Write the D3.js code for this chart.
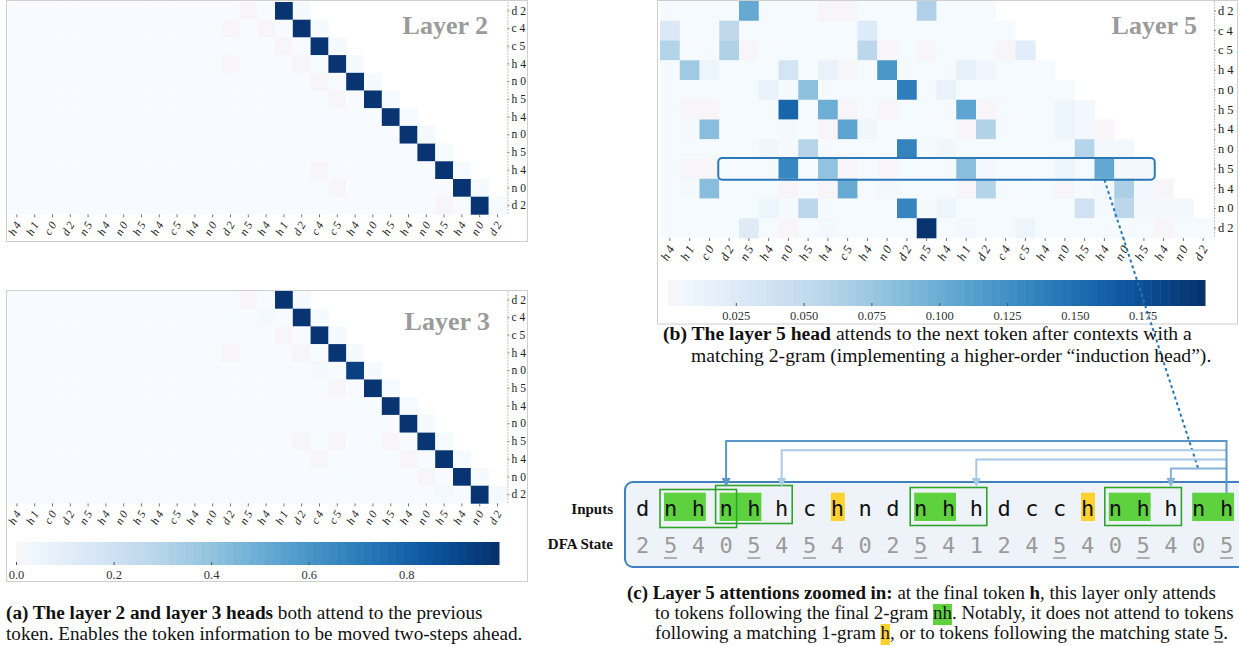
<!DOCTYPE html>
<html>
<head>
<meta charset="utf-8">
<script src="https://cdn.jsdelivr.net/npm/d3@7"></script>
<style>
  body { margin: 0; background: #fff; }
  svg { display: block; }
  text { font-family: "Liberation Serif", "Times New Roman", serif; }
</style>
</head>
<body>
<svg id="fig" width="1239" height="646"></svg>
<script>
// heatmap columns = last 28 tokens (symbol + DFA state), rows = last 12 of them
const colLabels = ["h4","h1","c0","d2","n5","h4","n0","h5","h4","c5","h4","n0","d2","n5",
                   "h4","h1","d2","c4","c5","h4","n0","h5","h4","n0","h5","h4","n0","d2"];
const rowLabels = ["d2","c4","c5","h4","n0","h5","h4","n0","h5","h4","n0","d2"];

// attention weights in per mille, row r covers columns 0 .. 16+r (causal mask)
const layer2 = [
  [2,2,2,2,2, 2,2,2,2,2, 2,2,2,0,2, 975,10],
  [2,2,2,2,2, 2,2,2,2,2, 2,2,0,2,0, 2,975,10],
  [2,2,2,2,2, 2,2,2,2,2, 2,2,2,2,2, 0,2,975,10],
  [2,2,2,2,2, 2,2,2,2,2, 2,2,0,2,2, 2,0,2,975,10],
  [2,2,2,2,2, 2,2,2,2,2, 2,2,2,2,2, 2,2,0,2,975,10],
  [2,2,2,2,2, 2,2,2,2,2, 2,2,2,2,2, 2,2,2,0,2,975,10],
  [2,2,2,2,2, 2,2,2,2,2, 2,2,2,2,2, 2,2,2,2,2, 2,975,10],
  [2,2,2,2,2, 2,2,2,2,2, 2,2,2,2,2, 2,2,2,2,2, 2,2,975,10],
  [2,2,2,2,2, 2,2,2,2,2, 2,2,2,2,2, 2,2,2,2,2, 2,2,2,975,10],
  [2,2,2,2,2, 2,2,2,2,2, 2,2,2,2,2, 2,2,0,2,2, 2,2,2,2,975,10],
  [2,2,2,2,2, 2,2,2,2,2, 2,2,2,2,2, 2,2,2,0,2, 2,2,2,2,2, 975,10],
  [2,2,2,2,2, 2,2,2,2,2, 2,2,2,2,2, 2,2,2,2,2, 2,2,2,2,0, 2,975,10]
];
const layer3 = [
  [2,2,2,2,2, 2,2,2,2,2, 2,2,2,0,2, 975,10],
  [2,2,2,2,2, 2,2,2,2,2, 2,2,3,2,15, 2,975,10],
  [2,2,2,2,2, 2,2,2,2,2, 2,2,2,2,2, 0,2,975,10],
  [2,2,2,2,2, 2,2,2,2,2, 2,2,0,2,2, 2,0,2,970,10],
  [2,2,2,2,2, 2,2,2,2,2, 2,2,2,2,2, 2,2,15,2,930,10],
  [2,2,2,2,2, 2,2,2,2,2, 2,2,2,2,2, 2,2,2,0,2,975,10],
  [2,2,2,2,2, 2,2,2,2,2, 2,2,2,2,2, 2,2,2,2,3, 2,975,10],
  [2,2,2,2,2, 2,2,2,2,2, 2,2,2,2,2, 2,2,2,2,2, 2,2,975,10],
  [2,2,2,2,2, 2,2,2,2,2, 2,2,2,2,2, 2,0,2,0,2, 2,0,2,970,10],
  [2,2,2,2,2, 2,2,2,2,2, 2,2,2,2,2, 2,2,0,2,2, 2,2,0,2,975,10],
  [2,2,2,2,2, 2,2,2,2,2, 2,2,2,2,2, 2,2,2,3,2, 2,2,2,0,2, 975,10],
  [2,2,2,2,2, 2,2,2,2,2, 2,2,2,2,2, 2,2,2,2,2, 2,2,2,2,15, 2,975,10]
];
const layer5 = [
  [2,2,2,2,103, 2,2,2,0,0, 2,2,2,63,2, 2,2],
  [28,2,2,53,2, 2,2,2,2,2, 26,2,2,2,2, 2,2,2],
  [60,2,2,64,0, 2,2,2,2,2, 55,0,2,0,2, 2,2,0,22],
  [2,72,10,2,2, 2,36,2,14,0, 2,119,2,2,2, 16,8,2,2,2],
  [2,2,2,2,2, 14,2,83,2,2, 2,2,139,2,14, 2,2,2,2,2, 2],
  [2,0,0,2,2, 2,158,2,99,0, 2,0,2,2,2, 107,0,2,2,2, 10,5],
  [2,3,85,2,2, 2,3,2,0,108, 8,2,2,2,2, 0,62,2,2,2, 10,5,0],
  [2,2,2,2,2, 8,2,58,2,2, 2,2,135,2,8, 2,2,2,2,2, 2,58,5,5],
  [2,0,0,2,2, 2,132,2,80,0, 2,0,2,2,2, 84,4,2,2,2, 10,2,104,5,5],
  [2,3,85,2,2, 2,0,2,0,102, 2,4,2,2,2, 0,60,2,2,2, 0,2,5,66,5, 0],
  [2,2,2,2,2, 10,2,55,2,2, 2,2,133,2,10, 2,2,2,2,2, 2,40,2,55,5, 5,5],
  [2,2,2,2,25, 2,0,2,4,2, 2,2,2,196,2, 4,2,2,10,2, 2,2,2,2,2, 0,2,2]
];

const cbarEarlyMax = 0.99;
const cbarEarlyTicks = [0, 0.2, 0.4, 0.6, 0.8];
const cbarL5Max = 0.198;
const cbarL5Ticks = [0.025, 0.05, 0.075, 0.1, 0.125, 0.15, 0.175];

// panel (c): the sequence is heatmap columns 3..24, query is row 8
const inputs = ["d","n","h","n","h","h","c","h","n","d","n","h","h","d","c","c","h","n","h","h","n","h"];
const states = [2,5,4,0,5,4,5,4,0,2,5,4,1,2,4,5,4,0,5,4,0,5];
const seqStart = 3;
const queryRow = 8;
const greenPairs = [[1,2],[3,4],[10,11],[17,18],[20,21]];
const yellowTokens = [7,16];
const matchBoxes = [[1,3],[3,5],[10,12],[17,19]];
const arrowTargets = [3,5,12,19];

const svg = d3.select("#fig");
const zeroTint = "#f8f5f9";

function drawHeatmap(rows, vmax, box, fs) {
    const g = svg.append("g");
    const x = d3.scaleBand().domain(d3.range(colLabels.length)).range([box.x, box.x + box.w]);
    const y = d3.scaleBand().domain(d3.range(rowLabels.length)).range([box.y, box.y + box.h]);
    const color = d3.scaleSequential(d3.interpolateBlues).domain([0, vmax]);
    const cells = rows.flatMap((row, r) => row.map((v, c) => ({r, c, v: v / 1000})));

    g.selectAll("rect")
        .data(cells)
        .join("rect")
        .attr("x", d => x(d.c))
        .attr("y", d => y(d.r))
        .attr("width", x.bandwidth() + 0.3)
        .attr("height", y.bandwidth() + 0.3)
        .attr("fill", d => d.v === 0 ? zeroTint : color(d.v));

    // bottom axis, rotated labels
    const gx = g.append("g")
        .attr("transform", `translate(0,${box.y + box.h})`)
        .call(d3.axisBottom(x).tickSize(3).tickSizeOuter(0).tickFormat(i => colLabels[i]));
    gx.select(".domain").remove();
    gx.selectAll(".tick line").attr("stroke", "#777");
    gx.selectAll(".tick text")
        .attr("x", 0).attr("y", 0).attr("dy", 0)
        .attr("transform", `translate(${fs * 0.5},${fs * 0.6 + 1}) rotate(-60)`)
        .attr("text-anchor", "end")
        .attr("font-size", fs)
        .attr("font-style", "italic")
        .attr("letter-spacing", 2.5)
        .attr("fill", "#222");

    // right axis, dotted spine
    const gy = g.append("g")
        .attr("transform", `translate(${box.x + box.w + 1},0)`)
        .call(d3.axisRight(y).tickSize(2).tickSizeOuter(0).tickFormat(i => rowLabels[i]));
    gy.select(".domain").attr("stroke", "#888").attr("stroke-dasharray", "1,2");
    gy.selectAll(".tick line").attr("stroke", "#888");
    gy.selectAll(".tick text")
        .attr("x", 4)
        .attr("font-size", fs)
        .attr("letter-spacing", 3)
        .attr("fill", "#222");
    return {x, y};
}

function drawColorbar(vmax, ticks, fmt, box) {
    const g = svg.append("g");
    const x = d3.scaleLinear().domain([0, vmax]).range([box.x, box.x + box.w]);
    const color = d3.scaleSequential(d3.interpolateBlues).domain([0, vmax]);
    const n = 60;
    g.selectAll("rect")
        .data(d3.range(n))
        .join("rect")
        .attr("x", i => x(i * vmax / n))
        .attr("y", box.y)
        .attr("width", box.w / n + 0.5)
        .attr("height", box.h)
        .attr("fill", i => i === 0 ? zeroTint : color((i + 0.5) * vmax / n));
    const ga = g.append("g")
        .attr("transform", `translate(0,${box.y + box.h})`)
        .call(d3.axisBottom(x).tickValues(ticks).tickFormat(fmt).tickSize(-3).tickSizeOuter(0).tickPadding(5));
    ga.select(".domain").remove();
    ga.selectAll(".tick line").attr("stroke", "#555");
    ga.selectAll(".tick text").attr("font-size", 12.5).attr("fill", "#333");
}

function frame(x, y, w, h) {
    svg.append("rect")
        .attr("x", x).attr("y", y).attr("width", w).attr("height", h)
        .attr("fill", "none").attr("stroke", "#cfcfcf");
}

function title(txt, x, y) {
    svg.append("text")
        .attr("x", x).attr("y", y)
        .attr("text-anchor", "end")
        .attr("font-size", 26).attr("font-weight", "bold")
        .attr("fill", "#9a9a9a")
        .text(txt);
}

// rich caption line: segments placed one after another
function richLine(x, y, segs, fs = 19.2) {
    const g = svg.append("g");
    let cx = x;
    segs.forEach(s => {
        const seg = typeof s === "string" ? {t: s} : s;
        const t = g.append("text")
            .attr("x", cx).attr("y", y)
            .style("white-space", "pre")
            .attr("font-size", fs)
            .attr("font-weight", seg.b ? "bold" : null)
            .attr("fill", "#111")
            .text(seg.t);
        const w = t.node().getComputedTextLength();
        if (seg.bg) {
            g.insert("rect", "text")
                .attr("x", cx).attr("y", y - 15).attr("width", w).attr("height", 21)
                .attr("fill", seg.bg);
        }
        if (seg.u) {
            g.append("line")
                .attr("x1", cx).attr("x2", cx + w).attr("y1", y + 3).attr("y2", y + 3)
                .attr("stroke", "#111");
        }
        cx += w;
    });
}

// ---- panel (a): layers 2 and 3
frame(6.5, 0.5, 521, 241);
drawHeatmap(layer2, cbarEarlyMax, {x: 8, y: 2, w: 498.4, h: 212.4}, 11.5);
title("Layer 2", 488, 34);

frame(6.5, 290.5, 521, 291);
drawHeatmap(layer3, cbarEarlyMax, {x: 8, y: 291, w: 498.4, h: 212.4}, 11.5);
title("Layer 3", 490, 330);
drawColorbar(cbarEarlyMax, cbarEarlyTicks, d3.format(".1f"), {x: 16, y: 542, w: 483, h: 23});

// ---- panel (b): layer 5
frame(657.5, 0.5, 580, 323.5);
const h5 = drawHeatmap(layer5, cbarL5Max, {x: 660, y: 1, w: 553, h: 237}, 12.5);
title("Layer 5", 1197, 34);
drawColorbar(cbarL5Max, cbarL5Ticks, d3.format(".3f"), {x: 668, y: 280, w: 537, h: 26});

// highlighted query row (the tokens shown in panel c)
svg.append("rect")
    .attr("x", h5.x(seqStart) - 1)
    .attr("y", h5.y(queryRow) - 1)
    .attr("width", h5.x(seqStart + inputs.length - 1) + h5.x.bandwidth() - h5.x(seqStart) + 2)
    .attr("height", h5.y.bandwidth() + 2)
    .attr("rx", 4)
    .attr("fill", "none")
    .attr("stroke", "#2a78b8")
    .attr("stroke-width", 2);

// ---- panel (c): zoomed token view
const tx = d3.scalePoint().domain(d3.range(inputs.length)).range([642.7, 1226.5]);
const rowTop = 492.7, rowBot = 521;

svg.append("rect")
    .attr("x", 625).attr("y", 482).attr("width", 640).attr("height", 85)
    .attr("rx", 8)
    .attr("fill", "#eef3fa")
    .attr("stroke", "#3f80bf")
    .attr("stroke-width", 2);

// dashed link from the attended cell to the arrows
const lastTarget = arrowTargets[arrowTargets.length - 1];
svg.append("line")
    .attr("x1", h5.x(seqStart + lastTarget) + h5.x.bandwidth() / 2)
    .attr("y1", h5.y(queryRow) + h5.y.bandwidth() + 1)
    .attr("x2", 1198).attr("y2", 468)
    .attr("stroke", "#1f77b4")
    .attr("stroke-width", 2)
    .attr("stroke-dasharray", "3,3");

svg.append("g").selectAll("rect")
    .data(greenPairs)
    .join("rect")
    .attr("x", d => tx(d[0]) - 6.5)
    .attr("y", rowTop)
    .attr("width", d => tx(d[1]) - tx(d[0]) + 14)
    .attr("height", rowBot - rowTop)
    .attr("fill", "#5dd23e");

svg.append("g").selectAll("rect")
    .data(yellowTokens)
    .join("rect")
    .attr("x", d => tx(d) - 6.5)
    .attr("y", rowTop)
    .attr("width", 14)
    .attr("height", rowBot - rowTop)
    .attr("fill", "#fdd22f");

// overlapping match boxes are nudged apart vertically
svg.append("g").selectAll("rect")
    .data(matchBoxes)
    .join("rect")
    .attr("x", d => tx(d[0]) - 10.5)
    .attr("y", (d, i) => {
        const prev = matchBoxes[i - 1], next = matchBoxes[i + 1];
        const shift = next && next[0] <= d[1] ? 2 : (prev && prev[1] >= d[0] ? -2 : 0);
        return 487.5 + shift;
    })
    .attr("width", d => tx(d[1]) - tx(d[0]) + 21)
    .attr("height", 38)
    .attr("fill", "none")
    .attr("stroke", "#2ea52a")
    .attr("stroke-width", 1.6);

svg.append("g").selectAll("text")
    .data(inputs)
    .join("text")
    .attr("x", (d, i) => tx(i))
    .attr("y", 516)
    .attr("text-anchor", "middle")
    .style("font-family", "'DejaVu Sans Mono', monospace")
    .attr("font-size", 22)
    .attr("fill", "#111")
    .text(d => d);

svg.append("g").selectAll("text")
    .data(states)
    .join("text")
    .attr("x", (d, i) => tx(i))
    .attr("y", 553)
    .attr("text-anchor", "middle")
    .style("font-family", "'DejaVu Sans Mono', monospace")
    .attr("font-size", 22)
    .attr("fill", "#9a9a9a")
    .text(d => d);

svg.append("g").selectAll("line")
    .data(states.map((s, i) => ({s, i})).filter(d => d.s === 5))
    .join("line")
    .attr("x1", d => tx(d.i) - 6.5).attr("x2", d => tx(d.i) + 6.5)
    .attr("y1", 558).attr("y2", 558)
    .attr("stroke", "#9a9a9a").attr("stroke-width", 1.5);

svg.append("text").attr("x", 613).attr("y", 514).attr("text-anchor", "end")
    .attr("font-size", 15).attr("font-weight", "bold").attr("fill", "#111").text("Inputs");
svg.append("text").attr("x", 613).attr("y", 549).attr("text-anchor", "end")
    .attr("font-size", 15).attr("font-weight", "bold").attr("fill", "#111").text("DFA State");

// attention arrows from the final token, shaded by weight
const arrowWeights = arrowTargets.map(t => layer5[queryRow][seqStart + t]);
const arrowColor = d3.scaleLinear().domain([70, 140]).range(["#bcd5ec", "#4f8fc7"]);
const trunkX = tx(inputs.length - 1);
const levelY = i => 441 + i * 9.2;
const ga = svg.append("g").attr("fill", "none");
arrowTargets.forEach((t, i) => {
    const c = arrowColor(arrowWeights[i]);
    const ax = tx(t);
    ga.append("path")
        .attr("d", `M${trunkX},${levelY(i)}H${ax}V479`)
        .attr("stroke", c).attr("stroke-width", 2);
    svg.append("path")
        .attr("d", `M${ax - 4.5},478L${ax + 4.5},478L${ax},487Z`)
        .attr("fill", c);
});
ga.append("line")
    .attr("x1", trunkX).attr("x2", trunkX)
    .attr("y1", levelY(0) - 1).attr("y2", rowTop)
    .attr("stroke", arrowColor(d3.max(arrowWeights))).attr("stroke-width", 2);

// ---- captions
richLine(6, 619, [{t: "(a) The layer 2 and layer 3 heads", b: true}, " both attend to the previous"]);
richLine(6, 640, ["token. Enables the token information to be moved two-steps ahead."]);

richLine(663, 340, [{t: "(b) The layer 5 head", b: true}, " attends to the next token after contexts with a"], 19.6);
richLine(691, 362, ["matching 2-gram (implementing a higher-order \u201cinduction head\u201d)."], 19.6);

richLine(627, 599, [{t: "(c) Layer 5 attentions zoomed in:", b: true}, " at the final token ",
                    {t: "h", b: true}, ", this layer only attends"], 18.9);
richLine(655, 619, ["to tokens following the final 2-gram ", {t: "nh", bg: "#5dd23e"},
                    ". Notably, it does not attend to tokens"], 18.9);
richLine(655, 639, ["following a matching 1-gram ", {t: "h", bg: "#fdd22f"},
                    ", or to tokens following the matching state ", {t: "5", u: true}, "."], 18.9);
</script>
</body>
</html>
